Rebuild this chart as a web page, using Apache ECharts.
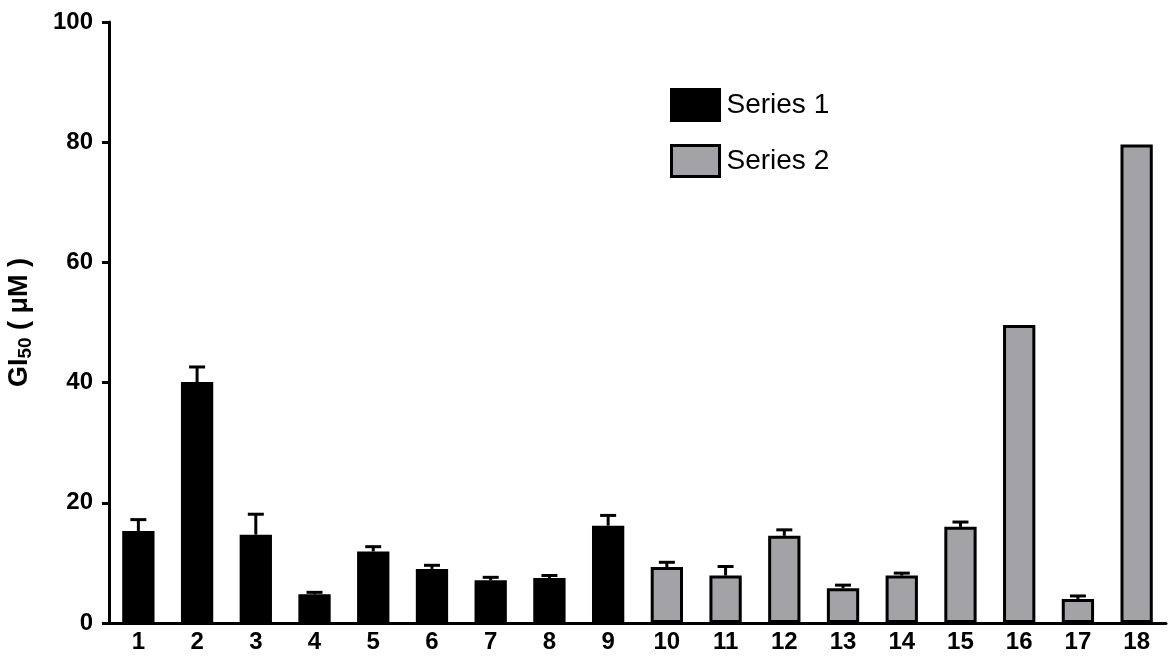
<!DOCTYPE html>
<html>
<head>
<meta charset="utf-8">
<script src="https://cdn.jsdelivr.net/npm/echarts@6/dist/echarts.min.js"></script>
<style>
html,body{margin:0;padding:0;background:#fff;}
#c{width:1171px;height:667px;}
</style>
</head>
<body>
<div id="c"></div>
<script>
// ---- data ----
const categories = ['1','2','3','4','5','6','7','8','9','10','11','12','13','14','15','16','17','18'];
const series1Name = 'Series 1';
const series2Name = 'Series 2';
// Series 1 covers categories 1-9, Series 2 covers 10-18
const series1Values = [15.3, 40.1, 14.7, 4.8, 11.9, 9.0, 7.1, 7.5, 16.2];
const series1Err    = [1.9, 2.5, 3.4, 0.3, 0.8, 0.6, 0.5, 0.4, 1.7];
const series2Values = [9.3, 7.9, 14.5, 5.8, 7.9, 16.0, 49.6, 4.0, 79.6];
const series2Err    = [0.8, 1.5, 1.0, 0.5, 0.4, 0.8, 0, 0.5, 0];
const yTicks = [0, 20, 40, 60, 80, 100];

const FONT = 'Arial, "Liberation Sans", Helvetica, sans-serif';
const GREY = '#a3a2a7';

const n1 = series1Values.length;
const s1Data = categories.map((c, i) => i < n1 ? series1Values[i] : '-');
const s2Data = categories.map((c, i) => i >= n1 ? series2Values[i - n1] : '-');
const errData = [];
series1Values.forEach((v, i) => errData.push([i, v, v + series1Err[i]]));
series2Values.forEach((v, i) => { if (series2Err[i] > 0) errData.push([i + n1, v, v + series2Err[i]]); });

const chart = echarts.init(document.getElementById('c'), null, {renderer: 'canvas'});
chart.setOption({
  animation: false,
  backgroundColor: '#fff',
  grid: {left: 109, right: 5, top: 22, bottom: 44, containLabel: false, outerBoundsMode: 'none'},
  legend: {
    orient: 'vertical',
    left: 670, top: 88,
    padding: 0,
    itemWidth: 48, itemHeight: 31,
    itemGap: 22,
    itemStyle: {borderWidth: 3, borderColor: '#000'},
    icon: 'rect',
    textStyle: {fontFamily: FONT, fontSize: 28, color: '#000', padding: [0, 0, 0, 2]},
    data: [series1Name, series2Name]
  },
  xAxis: {
    type: 'category',
    data: categories,
    axisLine: {lineStyle: {color: '#000', width: 3}},
    axisTick: {alignWithLabel: true, length: 8, lineStyle: {color: '#000', width: 3}},
    axisLabel: {fontFamily: FONT, fontSize: 24, fontWeight: 'bold', color: '#000', margin: 7}
  },
  yAxis: {
    type: 'value',
    min: yTicks[0], max: yTicks[yTicks.length - 1], interval: 20,
    name: '{a|GI}{b|50}{a| ( μM )}',
    nameLocation: 'middle',
    nameGap: 74,
    nameRotate: 90,
    nameTextStyle: {
      rich: {
        a: {fontFamily: FONT, fontSize: 27, fontWeight: 'bold', color: '#000'},
        b: {fontFamily: FONT, fontSize: 19, fontWeight: 'bold', color: '#000', verticalAlign: 'bottom', padding: [12, 0, 0, 0]}
      }
    },
    splitLine: {show: false},
    axisLine: {show: true, lineStyle: {color: '#000', width: 3}},
    axisTick: {show: true, length: 7, lineStyle: {color: '#000', width: 3}},
    axisLabel: {fontFamily: FONT, fontSize: 24, fontWeight: 'bold', color: '#000', margin: 16}
  },
  series: [
    {
      name: series1Name, type: 'bar', data: s1Data,
      barWidth: '55%', barGap: '-100%',
      itemStyle: {color: '#000', borderColor: '#000', borderWidth: 3}
    },
    {
      name: series2Name, type: 'bar', data: s2Data,
      barWidth: '55%', barGap: '-100%',
      itemStyle: {color: GREY, borderColor: '#000', borderWidth: 3}
    },
    {
      type: 'custom',
      data: errData,
      z: 5,
      renderItem: function (params, api) {
        const x = api.value(0);
        const base = api.coord([x, api.value(1)]);
        const top = api.coord([x, api.value(2)]);
        const half = 8;
        const style = {stroke: '#000', lineWidth: 3};
        return {
          type: 'group',
          children: [
            {type: 'line', shape: {x1: base[0], y1: base[1], x2: top[0], y2: top[1]}, style: style},
            {type: 'line', shape: {x1: top[0] - half, y1: top[1], x2: top[0] + half, y2: top[1]}, style: style}
          ]
        };
      }
    }
  ]
});
</script>
</body>
</html>
